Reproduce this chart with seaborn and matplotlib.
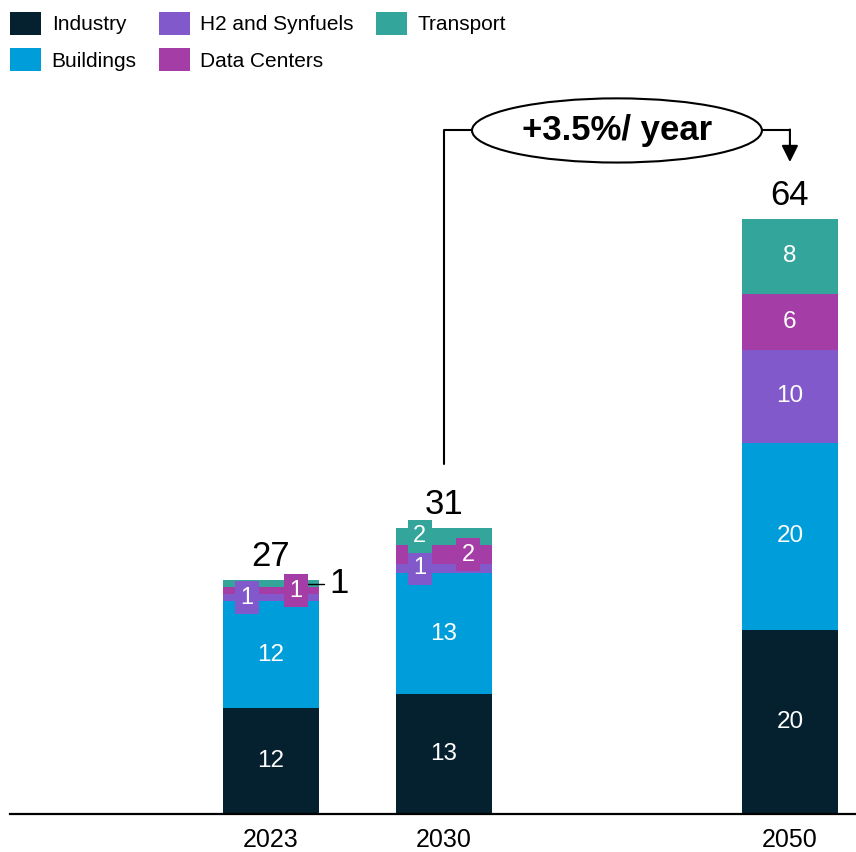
import matplotlib
matplotlib.use('Agg')
import matplotlib.pyplot as plt
from matplotlib.patches import Patch, Ellipse
import numpy as np
import pandas as pd
import seaborn as sns

sns.set_theme(style='white')
plt.rcParams['font.family'] = ['Liberation Sans', 'DejaVu Sans']
plt.rcParams['text.color'] = 'black'

# data
years = ['2023', '2030', '2050']
x_pos = [0, 1, 3]
industry = [11.4, 12.9, 19.8]
buildings = [11.5, 13.0, 20.1]
h2_synfuels = [0.75, 1.0, 10.0]
data_centers = [0.75, 2.0, 6.0]
transport = [0.75, 1.9, 8.1]

# printed labels (as shown on the chart)
industry_lbl = ['12', '13', '20']
buildings_lbl = ['12', '13', '20']
h2_lbl = ['1', '1', '10']
dc_lbl = ['1', '2', '6']
transport_lbl = ['1', '2', '8']
total_lbl = ['27', '31', '64']
growth_lbl = '+3.5%/ year'

segments = ['Industry', 'Buildings', 'H2 and Synfuels', 'Data Centers', 'Transport']
colors = ['#05202F', '#009DDB', '#8259CB', '#A43EA6', '#34A59A']
values = [industry, buildings, h2_synfuels, data_centers, transport]
labels = [industry_lbl, buildings_lbl, h2_lbl, dc_lbl, transport_lbl]

fig = plt.figure(figsize=(8.56, 8.52), dpi=100)
ax = fig.add_axes([10 / 856, 1 - 814 / 852, 846 / 856, 744 / 852])

bottoms = np.zeros(len(years))
mids = {}
for seg, col, vals in zip(segments, colors, values):
    df = pd.DataFrame({'x': x_pos, 'y': vals})
    sns.barplot(data=df, x='x', y='y', native_scale=True, color=col,
                width=0.555, bottom=bottoms.copy(), errorbar=None,
                linewidth=0, saturation=1, ax=ax)
    mids[seg] = bottoms + np.array(vals) / 2
    bottoms = bottoms + np.array(vals)
totals = bottoms

# offsets for small segment labels that sit in boxes
small_dx = {(0, 'H2 and Synfuels'): -0.14, (0, 'Data Centers'): 0.145,
            (1, 'Transport'): -0.14, (1, 'Data Centers'): 0.14,
            (1, 'H2 and Synfuels'): -0.14}

for seg, col, vals, lbls in zip(segments, colors, values, labels):
    for i, (xp, v, lb) in enumerate(zip(x_pos, vals, lbls)):
        y = mids[seg][i]
        if v >= 3:
            ax.text(xp, y, lb, ha='center', va='center', color='white', fontsize=17.5)
        elif (i, seg) in small_dx:
            ax.text(xp + small_dx[(i, seg)], y, lb, ha='center', va='center',
                    color='white', fontsize=17,
                    bbox=dict(boxstyle='square,pad=0.22', fc=col, ec='none'))
        else:
            # label outside the bar with a short leader line
            ax.plot([xp + 0.21, xp + 0.305], [y, y], color='black', lw=1)
            ax.text(xp + 0.335, y, lb, ha='left', va='center', color='black', fontsize=25)

for xp, t, lb in zip(x_pos, totals, total_lbl):
    ax.annotate(lb, (xp, t), xytext=(0, 5), textcoords='offset points',
                ha='center', va='bottom', fontsize=25, color='black')

# growth bracket between 2030 and 2050
bracket_y = 73.5
ell_x = (x_pos[1] + x_pos[2]) / 2
ell_w, ell_h = 1.676, 6.9
ax.plot([x_pos[1], x_pos[1], ell_x - ell_w / 2],
        [totals[1] + 6.8, bracket_y, bracket_y], color='black', lw=1.5)
ax.add_patch(Ellipse((ell_x, bracket_y), ell_w, ell_h, fc='white', ec='black', lw=1.5, zorder=5))
ax.text(ell_x, bracket_y, growth_lbl, ha='center', va='center', fontsize=25,
        fontweight='bold', color='black', zorder=6)
ax.plot([ell_x + ell_w / 2, x_pos[2]], [bracket_y, bracket_y], color='black', lw=1.5)
ax.annotate('', xy=(x_pos[2], 70.1), xytext=(x_pos[2], bracket_y + 0.1),
            arrowprops=dict(arrowstyle='-|>', color='black', lw=1.5, mutation_scale=25,
                            shrinkA=0, shrinkB=0))

ax.set_xlim(-1.509, 3.382)
ax.set_ylim(0, 80.0)
ax.set_xticks(x_pos)
ax.set_xticklabels(years, fontsize=18)
ax.set_yticks([])
ax.set_xlabel('')
ax.set_ylabel('')
ax.tick_params(axis='x', length=0, pad=10, colors='black')
for s in ['top', 'right', 'left']:
    ax.spines[s].set_visible(False)
ax.spines['bottom'].set_color('black')
ax.spines['bottom'].set_linewidth(1.6)

handles = [Patch(facecolor=c, edgecolor='none', label=s) for s, c in zip(segments, colors)]
leg = fig.legend(handles=handles, loc='upper left', bbox_to_anchor=(10 / 856, 1 - 12 / 852),
                 ncol=3, frameon=False, fontsize=15, borderpad=0, borderaxespad=0,
                 handlelength=1.5, handleheight=1.3, handletextpad=0.5,
                 columnspacing=1.05, labelspacing=0.65)
for t in leg.get_texts():
    t.set_color('black')

fig.savefig('out.png', dpi=100)
plt.close(fig)
